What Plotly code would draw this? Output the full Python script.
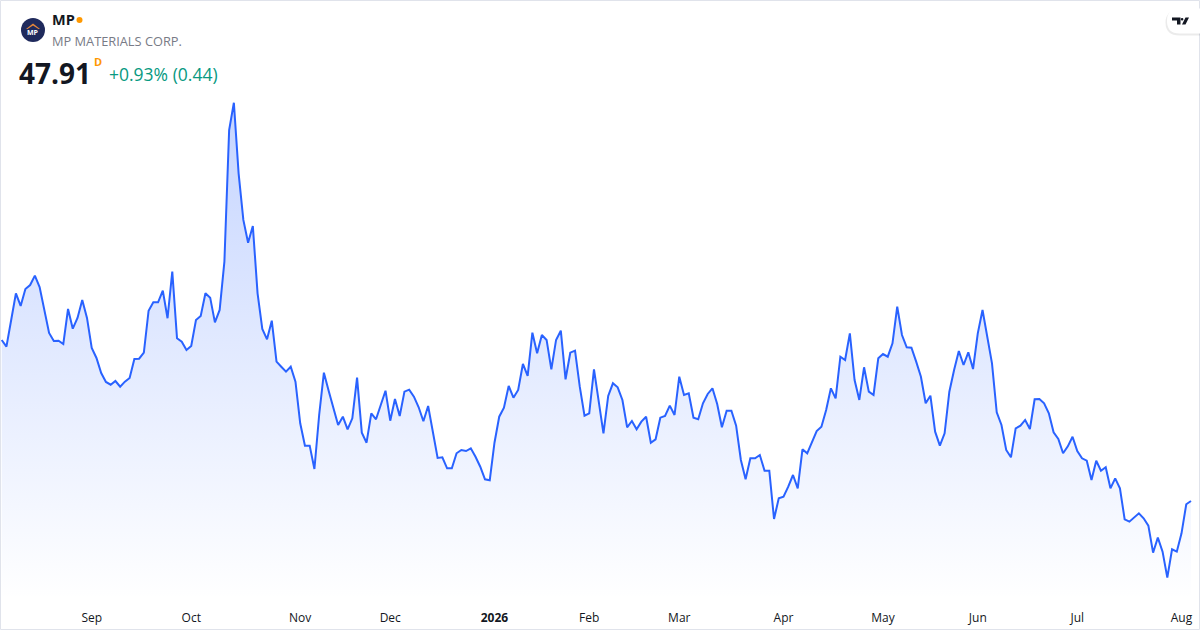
import pandas as pd
import plotly.graph_objects as go

# ---------------- data ----------------
start_date = "2025-08-05"
end_date = "2026-08-05"
market_holidays = ["2025-09-01", "2025-11-27", "2025-12-25", "2026-01-01", "2026-01-19",
                   "2026-02-16", "2026-04-03", "2026-05-25", "2026-06-19", "2026-07-03"]

close_prices = [
    69.65, 68.74, 72.35, 75.95, 74.24, 76.53, 77.07, 78.33, 76.80, 73.70,
    70.59, 69.51, 69.55, 69.10, 73.83, 71.17, 72.62, 75.05, 72.62, 68.57,
    67.22, 65.19, 63.98, 63.61, 64.11, 63.34, 64.02, 64.52, 67.08, 67.12,
    67.93, 73.60, 74.74, 74.74, 76.30, 72.58, 78.87, 69.87, 69.42, 68.30,
    68.84, 72.35, 72.89, 75.95, 75.36, 72.03, 73.70, 80.22, 97.99, 101.68,
    92.15, 85.85, 82.78, 85.03, 75.95, 71.13, 69.74, 72.25, 66.72, 66.04,
    65.37, 66.04, 64.02, 58.40, 55.38, 55.38, 52.23, 59.52, 65.23, 62.80,
    60.51, 58.17, 59.29, 57.59, 59.07, 64.56, 57.13, 55.78, 59.75, 58.94,
    60.87, 62.80, 58.75, 61.68, 59.39, 62.67, 62.94, 61.99, 60.56, 58.67,
    60.74, 57.27, 53.72, 53.81, 52.32, 52.32, 54.35, 54.80, 54.66, 55.02,
    53.89, 52.54, 50.84, 50.70, 55.78, 59.29, 60.51, 63.44, 61.86, 62.90,
    66.41, 64.79, 70.63, 67.85, 70.32, 69.65, 65.69, 69.65, 70.90, 64.34,
    67.93, 68.20, 63.34, 59.43, 59.75, 65.69, 61.32, 57.05, 62.09, 63.80,
    63.26, 61.55, 57.86, 58.71, 57.59, 58.62, 59.29, 55.78, 56.24, 59.16,
    59.39, 60.78, 59.52, 64.69, 62.22, 62.45, 59.16, 58.94, 61.10, 62.36,
    63.12, 61.00, 57.86, 60.10, 60.10, 58.08, 53.45, 50.84, 53.67, 53.67,
    54.12, 52.00, 52.00, 45.48, 48.27, 48.49, 49.84, 51.42, 49.62, 54.89,
    54.35, 55.78, 57.36, 57.94, 60.19, 63.12, 61.77, 67.39, 66.94, 70.55,
    64.24, 61.55, 65.96, 62.67, 62.22, 67.17, 67.75, 67.39, 69.20, 74.14,
    70.32, 68.66, 68.61, 66.72, 64.69, 61.10, 62.13, 57.27, 55.38, 57.05,
    62.67, 65.60, 68.16, 66.27, 67.98, 65.73, 70.55, 73.70, 70.09, 66.50,
    59.88, 58.17, 54.80, 53.81, 57.72, 58.08, 58.85, 57.63, 61.64, 61.68,
    61.10, 59.75, 57.19, 56.28, 54.35, 55.29, 56.59, 54.66, 53.67, 53.35,
    50.74, 53.35, 52.00, 52.46, 49.62, 50.97, 49.62, 45.44, 45.12, 45.66,
    46.25, 45.58, 44.58, 40.93, 42.96, 41.07, 37.56, 41.39, 41.07, 43.55,
    47.47, 47.91,
]

month_labels = ["Sep", "Oct", "Nov", "Dec", "<b>2026</b>", "Feb", "Mar", "Apr",
                "May", "Jun", "Jul", "Aug"]

ticker = "MP"
company = "MP MATERIALS CORP."
last_price = "47.91"
change_text = "+0.93% (0.44)"

# ---------------- build axis categories ----------------
days = pd.bdate_range(start_date, end_date)
days = days[~days.isin(pd.to_datetime(market_holidays))]
dates = [d.strftime("%Y-%m-%d") for d in days][:len(close_prices)]

month_first = []
seen = set()
for d in dates:
    key = d[:7]
    if key not in seen:
        seen.add(key)
        month_first.append(d)
tick_dates = month_first[1:1 + len(month_labels)]

# ---------------- figure ----------------
W, H = 1200, 630
PLOT_H = 600
y_top, y_bot = 115.545, 34.545

fig = go.Figure()
fig.add_trace(go.Scatter(
    x=dates, y=close_prices, mode="lines",
    line=dict(color="#2962FF", width=2),
    fill="tozeroy",
    fillgradient=dict(
        type="vertical",
        start=y_bot, stop=max(close_prices),
        colorscale=[[0, "rgba(41,98,255,0.0)"], [1, "rgba(41,98,255,0.27)"]],
    ),
    hoverinfo="skip",
))

n = len(close_prices)
px_per = (1191 - 1.7) / (n - 1)
r0 = -1.7 / px_per
r1 = r0 + W / px_per

fig.update_xaxes(
    type="category", range=[r0, r1],
    tickmode="array", tickvals=tick_dates, ticktext=month_labels,
    showgrid=False, zeroline=False, showline=False, ticks="",
    tickfont=dict(family="Open Sans", size=12, color="#131722"),
    ticklabelstandoff=9,
    fixedrange=True,
)
fig.update_yaxes(range=[y_bot, y_top], visible=False, showgrid=False, fixedrange=True)


def px(x):
    return x / W


def py(y):
    return 1 - y / PLOT_H


annotations = [
    dict(x=px(50), y=py(20), text=f"<b>{ticker}</b>", font=dict(size=14.5, color="#131722")),
    dict(x=px(50), y=py(40.5), text=company, font=dict(size=12.8, color="#787B86")),
    dict(x=px(16.5), y=py(72.5), text=f"<b>{last_price}</b>", font=dict(size=28, color="#131722")),
    dict(x=px(91.5), y=py(61), text="<b>D</b>", font=dict(size=11, color="#FF9800")),
    dict(x=px(107), y=py(74.5), text=change_text, font=dict(size=17.5, color="#089981")),
    dict(x=px(32.7), y=py(32.5), text="<b>MP</b>", font=dict(size=7, color="#FFFFFF"),
         xanchor="center"),
]
for a in annotations:
    a.setdefault("xanchor", "left")
    a.update(xref="paper", yref="paper", yanchor="middle", showarrow=False)
    a["font"].setdefault("family", "Open Sans")

shapes = [
    # outer border
    dict(type="rect", xref="paper", yref="paper", x0=px(0.5), x1=px(1199.5),
         y0=py(629.5), y1=py(0.5), line=dict(color="#E0E3EB", width=1), layer="above"),
    # status dot
    dict(type="circle", xref="paper", yref="paper", x0=px(76.5), x1=px(82.5),
         y0=py(23), y1=py(17), fillcolor="#FF9800", line=dict(width=0)),
    # logo circle
    dict(type="circle", xref="paper", yref="paper", x0=px(21), x1=px(45),
         y0=py(42), y1=py(18), fillcolor="#1F2A5C", line=dict(width=0)),
    # logo roof
    dict(type="path", xref="paper", yref="paper",
         path=f"M {px(26)} {py(29)} L {px(33)} {py(23.5)} L {px(40)} {py(29)} "
              f"L {px(38.5)} {py(29)} L {px(33)} {py(25.5)} L {px(27.5)} {py(29)} Z",
         fillcolor="#E8893A", line=dict(width=0)),
]

# TradingView badge (rounded pill, partially off the right edge)
pill_l, pill_t, pill_b, rad = 1167, 8.5, 33.5, 12.5
shapes.append(dict(
    type="path", xref="paper", yref="paper",
    path=(f"M {px(1205)} {py(pill_t + 1.5)} L {px(pill_l + rad)} {py(pill_t + 1.5)} "
          f"Q {px(pill_l - 1.5)} {py(pill_t + 1.5)} {px(pill_l - 1.5)} {py((pill_t + pill_b) / 2 + 1.5)} "
          f"Q {px(pill_l - 1.5)} {py(pill_b + 2)} {px(pill_l + rad)} {py(pill_b + 2)} "
          f"L {px(1205)} {py(pill_b + 2)} Z"),
    fillcolor="rgba(0,0,0,0.08)", line=dict(width=0)))
shapes.append(dict(
    type="path", xref="paper", yref="paper",
    path=(f"M {px(1205)} {py(pill_t)} L {px(pill_l + rad)} {py(pill_t)} "
          f"Q {px(pill_l)} {py(pill_t)} {px(pill_l)} {py((pill_t + pill_b) / 2)} "
          f"Q {px(pill_l)} {py(pill_b)} {px(pill_l + rad)} {py(pill_b)} "
          f"L {px(1205)} {py(pill_b)} Z"),
    fillcolor="#FFFFFF", line=dict(width=0)))
# TV glyph
shapes.append(dict(
    type="path", xref="paper", yref="paper",
    path=(f"M {px(1172)} {py(17.5)} L {px(1180.5)} {py(17.5)} L {px(1180.5)} {py(24.5)} "
          f"L {px(1177)} {py(24.5)} L {px(1177)} {py(20.5)} L {px(1172)} {py(20.5)} Z"),
    fillcolor="#131722", line=dict(width=0)))
shapes.append(dict(
    type="circle", xref="paper", yref="paper", x0=px(1180.8), x1=px(1183.4),
    y0=py(20.6), y1=py(18), fillcolor="#131722", line=dict(width=0)))
shapes.append(dict(
    type="path", xref="paper", yref="paper",
    path=(f"M {px(1185.5)} {py(17.5)} L {px(1189)} {py(17.5)} L {px(1185.5)} {py(24.5)} "
          f"L {px(1182)} {py(24.5)} Z"),
    fillcolor="#131722", line=dict(width=0)))

fig.update_layout(
    width=W, height=H,
    margin=dict(l=0, r=0, t=0, b=H - PLOT_H, pad=0),
    paper_bgcolor="#FFFFFF", plot_bgcolor="#FFFFFF",
    showlegend=False,
    annotations=annotations,
    shapes=shapes,
    font=dict(family="Open Sans"),
)

fig.write_html(
    "out.html",
    config={"displayModeBar": False},
    post_script="document.body.style.margin='0';document.body.style.overflow='hidden';",
)
